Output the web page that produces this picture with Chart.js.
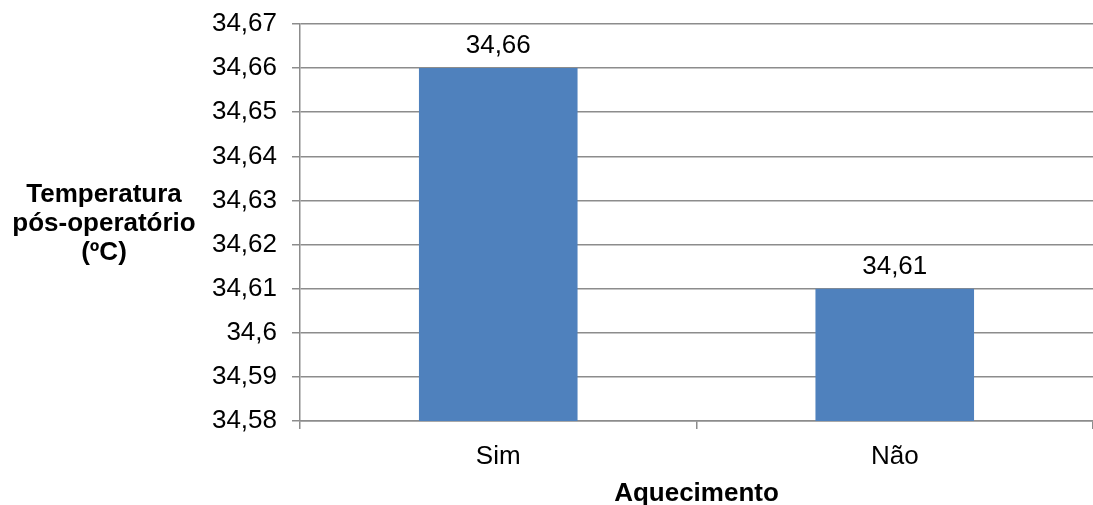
<!DOCTYPE html>
<html>
<head>
<meta charset="utf-8">
<script src="https://cdn.jsdelivr.net/npm/chart.js@4"></script>
<style>
  html, body { margin: 0; padding: 0; background: #fff; }
  #wrap { width: 1093px; height: 505px; position: relative; }
</style>
</head>
<body>
<div id="wrap"><canvas id="c"></canvas></div>
<script>
// Temperatura pós-operatória média por grupo de aquecimento
const categories = ['Sim', 'Não'];
const temperatures = [34.66, 34.61];
const yTickValues = [34.58, 34.59, 34.60, 34.61, 34.62, 34.63, 34.64, 34.65, 34.66, 34.67];
const yTitleLines = ['Temperatura', 'pós-operatório', '(ºC)'];
const xTitle = 'Aquecimento';

const FONT = '"Liberation Sans", Arial, sans-serif';
const GRID = '#8c8c8c';

const fmt = v => parseFloat(v.toFixed(2)).toString().replace('.', ',');

// Rótulos de valor acima das barras
const valueLabels = {
  id: 'valueLabels',
  afterDatasetsDraw(chart) {
    const ctx = chart.ctx;
    const meta = chart.getDatasetMeta(0);
    ctx.save();
    ctx.font = '26px ' + FONT;
    ctx.fillStyle = '#000';
    ctx.textAlign = 'center';
    ctx.textBaseline = 'bottom';
    meta.data.forEach((bar, i) => {
      ctx.fillText(fmt(temperatures[i]), bar.x, bar.y - 9);
    });
    ctx.restore();
  }
};

// Título horizontal do eixo vertical, em várias linhas
const yAxisTitle = {
  id: 'yAxisTitle',
  afterDraw(chart) {
    const ctx = chart.ctx;
    const lh = 29;
    ctx.save();
    ctx.font = 'bold 26px ' + FONT;
    ctx.fillStyle = '#000';
    ctx.textAlign = 'center';
    ctx.textBaseline = 'middle';
    yTitleLines.forEach((t, i) => ctx.fillText(t, 104, 195 + i * lh));
    ctx.restore();
  }
};

new Chart(document.getElementById('c'), {
  type: 'bar',
  data: {
    labels: categories,
    datasets: [{
      data: temperatures,
      backgroundColor: '#4F81BD',
      borderWidth: 0,
      barPercentage: 0.4,
      categoryPercentage: 1.0
    }]
  },
  options: {
    responsive: true,
    maintainAspectRatio: false,
    animation: false,
    layout: { padding: { top: 24, right: 0, bottom: 0, left: 0 } },
    plugins: { legend: { display: false }, tooltip: { enabled: false } },
    scales: {
      x: {
        offset: true,
        grid: {
          offset: true,
          drawOnChartArea: false,
          drawTicks: true,
          tickLength: 8,
          color: GRID,
          lineWidth: 1.5
        },
        border: { color: GRID, width: 1.5 },
        ticks: { color: '#000', font: { family: FONT, size: 26 }, padding: 12 },
        title: {
          display: true,
          text: xTitle,
          color: '#000',
          font: { family: FONT, size: 26, weight: 'bold' },
          padding: { top: 4, bottom: -4 }
        },
        afterFit(scale) { scale.height = 84; scale.paddingLeft = 0; scale.paddingRight = 0; }
      },
      y: {
        min: 34.58,
        max: 34.67,
        afterBuildTicks(scale) { scale.ticks = yTickValues.map(v => ({ value: v })); },
        grid: { color: GRID, lineWidth: 1.5, tickLength: 8, drawTicks: true },
        border: { color: GRID, width: 1.5 },
        ticks: {
          color: '#000',
          font: { family: FONT, size: 26 },
          padding: 15,
          callback: v => fmt(v)
        },
        afterFit(scale) { scale.width = 300; scale.paddingTop = 0; scale.paddingBottom = 0; }
      }
    }
  },
  plugins: [valueLabels, yAxisTitle]
});
</script>
</body>
</html>
